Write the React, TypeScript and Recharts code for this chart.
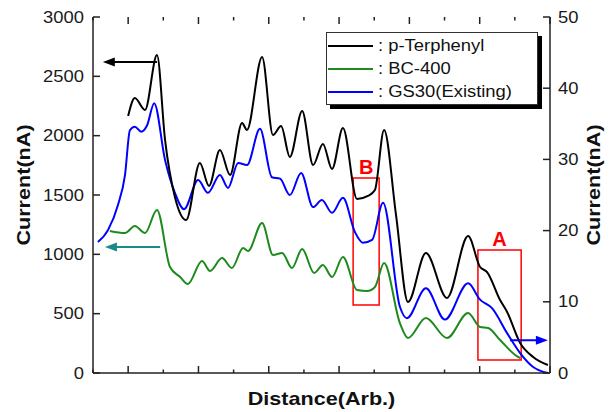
import React from 'react';
import { LineChart, Line, XAxis, YAxis, ReferenceArea, ReferenceLine } from 'recharts';

// p-Terphenyl (left axis, nA)
const terDist = [1.0, 1.19, 1.48, 1.82, 2.05, 2.33, 2.65, 3.04, 3.3, 3.61, 3.9, 4.24, 4.38, 4.81, 5.12, 5.35, 5.6, 5.95, 6.26, 6.54, 6.8, 7.11, 7.51, 7.82, 8.02, 8.28, 8.62, 8.96, 9.47, 10.07, 10.67, 11.01, 11.21, 11.58, 11.78, 12.15, 12.52, 12.94];
const terVal = [2166, 2317, 2216, 2680, 1963, 1483, 1289, 1770, 1576, 1879, 1668, 2107, 2048, 2663, 2006, 2081, 1820, 2208, 1753, 1930, 1719, 2064, 1466, 1492, 1542, 2048, 1331, 598, 1011, 632, 1154, 893, 851, 615, 514, 253, 135, 67];

// BC-400 (left axis, nA)
const bcDist = [0.48, 0.91, 1.19, 1.48, 1.82, 2.19, 2.48, 2.7, 3.1, 3.33, 3.67, 3.95, 4.27, 4.41, 4.81, 5.12, 5.38, 5.66, 5.95, 6.29, 6.54, 6.8, 7.11, 7.51, 7.8, 8.02, 8.28, 8.73, 8.96, 9.47, 10.07, 10.67, 11.01, 11.24, 11.58, 12.01, 12.15];
const bcVal = [1197, 1180, 1239, 1180, 1374, 893, 809, 750, 944, 860, 969, 885, 1053, 1028, 1264, 994, 1011, 885, 1045, 843, 910, 809, 977, 699, 691, 725, 927, 421, 295, 463, 295, 506, 388, 379, 278, 152, 126];

// GS30(Existing) (right axis, nA)
const gsDist = [0.14, 0.43, 0.71, 0.91, 1.05, 1.19, 1.37, 1.54, 1.74, 2.05, 2.33, 2.59, 2.99, 3.27, 3.61, 3.84, 4.13, 4.38, 4.75, 5.09, 5.32, 5.6, 5.92, 6.26, 6.51, 6.8, 7.11, 7.45, 7.68, 7.94, 8.25, 8.73, 8.93, 9.47, 10.01, 10.67, 11.01, 11.35, 11.78, 12.15, 12.52, 12.94];
const gsVal = [18.4, 20.1, 23.6, 27.8, 34.1, 34.6, 33.9, 34.8, 37.9, 29.9, 25.3, 23.0, 27.1, 25.3, 27.8, 26.0, 29.5, 29.2, 34.3, 27.5, 27.3, 25.0, 28.1, 23.3, 24.3, 22.5, 24.6, 19.8, 18.3, 18.7, 23.9, 9.3, 7.7, 11.9, 7.5, 12.6, 10.3, 9.1, 5.6, 2.8, 0.85, 0];

const seriesNames = ['p-Terphenyl', 'BC-400', 'GS30(Existing)'];
const seriesColors = ['#000000', '#1e8a1e', '#0000ff'];

const xTicks = [0, 1, 2, 3, 4, 5, 6, 7, 8, 9, 10, 11, 12, 13];
const leftTicks = [0, 500, 1000, 1500, 2000, 2500, 3000];
const rightTicks = [0, 10, 20, 30, 40, 50];

const terData = terDist.map((d, i) => ({ d, v: terVal[i] }));
const bcData = bcDist.map((d, i) => ({ d, v: bcVal[i] }));
const gsData = gsDist.map((d, i) => ({ d, v: gsVal[i] }));

const FONT = '"Liberation Sans", Arial, sans-serif';
const AXIS = '#222';
const TL = 7;
const TLm = 3.5;
const CHART_W = 613;
const CHART_H = 412;
const M_TOP = 17;
const XAXIS_H = 39;
const PLOT_H = CHART_H - M_TOP - XAXIS_H;

const LeftTick = (props: any) => {
  const { x, y, payload } = props;
  return (
    <g>
      <line x1={x} y1={y} x2={x + TL} y2={y} stroke={AXIS} strokeWidth={1.5} />
      <text
        transform={`translate(${x - 9},${y}) scale(1.15,1)`}
        textAnchor="end"
        dominantBaseline="central"
        fontFamily={FONT}
        fontSize={16}
        fill="#1a1a1a"
      >
        {payload.value}
      </text>
    </g>
  );
};

const RightTick = (props: any) => {
  const { x, y, payload } = props;
  return (
    <g>
      <line x1={x} y1={y} x2={x - TL} y2={y} stroke={AXIS} strokeWidth={1.5} />
      <text
        transform={`translate(${x + 8},${y}) scale(1.15,1)`}
        textAnchor="start"
        dominantBaseline="central"
        fontFamily={FONT}
        fontSize={16}
        fill="#1a1a1a"
      >
        {payload.value}
      </text>
    </g>
  );
};

// bottom tick also draws the mirrored tick on the top frame edge
const BottomTick = (props: any) => {
  const { x, y, payload } = props;
  const len = payload.value % 2 === 1 ? TL : TLm;
  const yt = y - PLOT_H;
  return (
    <g>
      <line x1={x} y1={y} x2={x} y2={y - len} stroke={AXIS} strokeWidth={1.5} />
      <line x1={x} y1={yt} x2={x} y2={yt + len} stroke={AXIS} strokeWidth={1.5} />
    </g>
  );
};

const VLabel = (dx: number, text: string) => (props: any) => {
  const vb = props.viewBox || {};
  const cx = vb.x + dx;
  const cy = 185;
  return (
    <text
      transform={`translate(${cx},${cy}) rotate(-90) scale(1.2,1)`}
      textAnchor="middle"
      dominantBaseline="central"
      fontFamily={FONT}
      fontSize={18}
      fontWeight="bold"
      fill="#111"
    >
      {text}
    </text>
  );
};

const XLabel = (props: any) => {
  const vb = props.viewBox || {};
  const cx = vb.x + vb.width / 2;
  return (
    <text
      transform={`translate(${cx},${399}) scale(1.2,1)`}
      textAnchor="middle"
      dominantBaseline="central"
      fontFamily={FONT}
      fontSize={18}
      fontWeight="bold"
      fill="#111"
    >
      Distance(Arb.)
    </text>
  );
};

const arrowShape = (color: string) => (props: any) => {
  const { x1, y1, x2, y2 } = props;
  const dir = x2 > x1 ? 1 : -1;
  const hl = 12;
  const hw = 4.5;
  return (
    <g>
      <line x1={x1} y1={y1} x2={x2 - dir * hl * 0.8} y2={y2} stroke={color} strokeWidth={2} />
      <polygon
        points={`${x2},${y2} ${x2 - dir * hl},${y2 - hw} ${x2 - dir * hl},${y2 + hw}`}
        fill={color}
      />
    </g>
  );
};

const LegendBox = () => (
  <div
    style={{
      position: 'absolute',
      left: 326,
      top: 32,
      width: 212,
      height: 73,
      border: '1px solid #333',
      background: '#fff',
      boxShadow: '4px 4px 0 #000',
      boxSizing: 'border-box',
      paddingTop: 1,
    }}
  >
    {seriesNames.map((n, i) => (
      <div key={n} style={{ display: 'flex', alignItems: 'center', height: 23 }}>
        <svg width={50} height={6} style={{ marginLeft: 1 }}>
          <line x1={0} y1={3} x2={45} y2={3} stroke={seriesColors[i]} strokeWidth={2} />
        </svg>
        <span
          style={{
            fontFamily: FONT,
            fontSize: 16,
            color: '#111',
            display: 'inline-block',
            transform: 'scaleX(1.15)',
            transformOrigin: 'left center',
            whiteSpace: 'nowrap',
            lineHeight: '23px',
          }}
        >
          : {n}
        </span>
      </div>
    ))}
  </div>
);

export default function App() {
  return (
    <div style={{ position: 'absolute', left: 0, top: 0, width: CHART_W, height: CHART_H, background: '#fff' }}>
      <LineChart width={CHART_W} height={CHART_H} margin={{ top: M_TOP, right: 0, bottom: 0, left: 0 }}>
        <XAxis
          xAxisId="b"
          type="number"
          dataKey="d"
          domain={[0, 13]}
          ticks={xTicks}
          tick={BottomTick}
          tickLine={false}
          tickSize={0}
          tickMargin={0}
          height={XAXIS_H}
          stroke={AXIS}
          strokeWidth={1.5}
          allowDataOverflow
          label={XLabel}
        />
        <XAxis
          xAxisId="t"
          orientation="top"
          type="number"
          dataKey="d"
          domain={[0, 13]}
          tick={false}
          tickLine={false}
          height={0}
          stroke={AXIS}
          strokeWidth={1.5}
          allowDataOverflow
        />
        <YAxis
          yAxisId="left"
          domain={[0, 3000]}
          ticks={leftTicks}
          tick={LeftTick}
          tickLine={false}
          tickSize={0}
          tickMargin={0}
          width={93}
          stroke={AXIS}
          strokeWidth={1.5}
          allowDataOverflow
          label={VLabel(24, 'Current(nA)')}
        />
        <YAxis
          yAxisId="right"
          orientation="right"
          domain={[0, 50]}
          ticks={rightTicks}
          tick={RightTick}
          tickLine={false}
          tickSize={0}
          tickMargin={0}
          width={63}
          stroke={AXIS}
          strokeWidth={1.5}
          allowDataOverflow
          label={VLabel(44, 'Current(nA)')}
        />
        <Line
          name={seriesNames[2]}
          data={gsData}
          xAxisId="b"
          yAxisId="right"
          dataKey="v"
          type="monotone"
          stroke={seriesColors[2]}
          strokeWidth={2}
          dot={false}
          isAnimationActive={false}
        />
        <Line
          name={seriesNames[1]}
          data={bcData}
          xAxisId="b"
          yAxisId="left"
          dataKey="v"
          type="monotone"
          stroke={seriesColors[1]}
          strokeWidth={2}
          dot={false}
          isAnimationActive={false}
        />
        <Line
          name={seriesNames[0]}
          data={terData}
          xAxisId="b"
          yAxisId="left"
          dataKey="v"
          type="monotone"
          stroke={seriesColors[0]}
          strokeWidth={2}
          dot={false}
          isAnimationActive={false}
        />
        <ReferenceArea
          xAxisId="b"
          yAxisId="left"
          x1={7.4}
          x2={8.14}
          y1={573}
          y2={1643}
          fill="none"
          stroke="#ff0000"
          strokeWidth={1.5}
          fillOpacity={0}
          ifOverflow="visible"
          label={{ value: 'B', position: 'top', offset: 4, fill: '#ff0000', fontSize: 20, fontWeight: 'bold', fontFamily: FONT }}
        />
        <ReferenceArea
          xAxisId="b"
          yAxisId="left"
          x1={10.95}
          x2={12.18}
          y1={110}
          y2={1036}
          fill="none"
          stroke="#ff0000"
          strokeWidth={1.5}
          fillOpacity={0}
          ifOverflow="visible"
          label={{ value: 'A', position: 'top', offset: 4, fill: '#ff0000', fontSize: 20, fontWeight: 'bold', fontFamily: FONT }}
        />
        <ReferenceLine
          xAxisId="b"
          yAxisId="left"
          segment={[{ x: 1.82, y: 2621 }, { x: 0.28, y: 2621 }]}
          shape={arrowShape('#000000')}
          ifOverflow="visible"
        />
        <ReferenceLine
          xAxisId="b"
          yAxisId="left"
          segment={[{ x: 1.91, y: 1062 }, { x: 0.34, y: 1062 }]}
          shape={arrowShape('#1a8a8a')}
          ifOverflow="visible"
        />
        <ReferenceLine
          xAxisId="b"
          yAxisId="right"
          segment={[{ x: 11.86, y: 4.6 }, { x: 12.94, y: 4.6 }]}
          shape={arrowShape('#0000ff')}
          ifOverflow="visible"
        />
      </LineChart>
      <LegendBox />
    </div>
  );
}
